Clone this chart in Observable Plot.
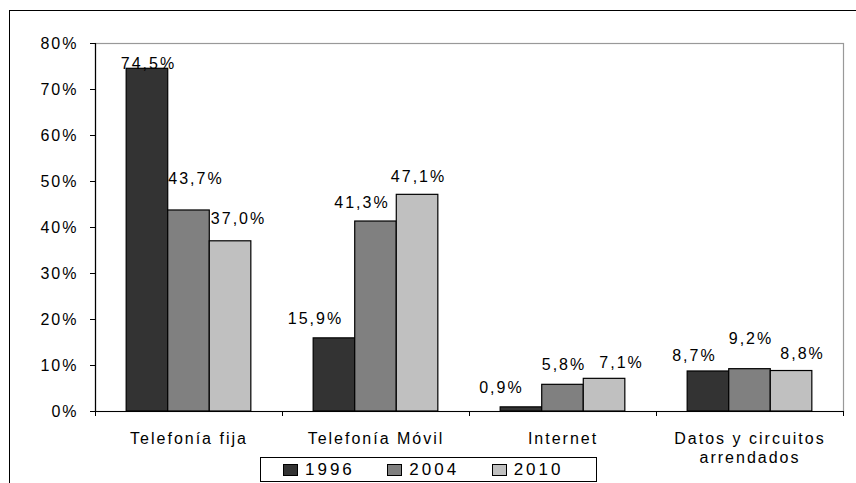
<!DOCTYPE html>
<html>
<head>
<meta charset="utf-8">
<script src="https://cdn.jsdelivr.net/npm/d3@7"></script>
<script src="https://cdn.jsdelivr.net/npm/@observablehq/plot@0.6"></script>
<style>
  html, body { margin: 0; padding: 0; background: #fff; }
  #wrap { position: relative; width: 856px; height: 483px; overflow: hidden; font-family: "Liberation Sans", Arial, sans-serif; }
  #border { position: absolute; left: 9px; top: 10px; width: 900px; height: 600px; border-left: 1px solid #000; border-top: 1px solid #000; pointer-events: none; }
  #chart { position: absolute; left: 0; top: 0; }
  #chart svg text { letter-spacing: 2px; }
  #legend { position: absolute; left: 260px; top: 457px; width: 337px; height: 25px; box-sizing: border-box; border: 1px solid #000; background: #fff; display: flex; align-items: center; padding-left: 22px; }
  #legend .item { display: inline-flex; align-items: center; width: 114px; font-size: 17px; letter-spacing: 3px; color: #000; }
  #legend .sw { width: 13px; height: 10px; border: 1px solid #000; margin-right: 7px; }
</style>
</head>
<body>
<div id="wrap">
  <div id="chart"></div>
  <div id="border"></div>
  <div id="legend"></div>
</div>
<script>
// ---- data ----
const categories = ["Telefonía fija", "Telefonía Móvil", "Internet", "Datos y circuitos arrendados"];
const categoryLabels = ["Telefonía fija", "Telefonía Móvil", "Internet", "Datos y circuitos\narrendados"];
const years = ["1996", "2004", "2010"];
const values1996 = [74.5, 15.9, 0.9, 8.7];
const values2004 = [43.7, 41.3, 5.8, 9.2];
const values2010 = [37.0, 47.1, 7.1, 8.8];
const yTicks = [0, 10, 20, 30, 40, 50, 60, 70, 80];

// ---- styles / label placement (pixels, as hand-placed in the original) ----
const yearColors = ["#333333", "#808080", "#c0c0c0"];
const labelNudge = [
  [[0, 0], [-20, 14], [-21, 14], [-15, 10]],   // 1996: [dx, gap above bar]
  [[6, 26], [-15, 14], [0, 15], [0, 25]],      // 2004
  [[7, 17], [0, 13], [16, 11], [10, 12]]       // 2010
];
const W = 856, H = 483;
const mL = 95, mR = 13, mT = 43, mB = 72;

const series = [values1996, values2004, values2010];
const rows = [];
years.forEach((yr, j) => categories.forEach((c, i) => rows.push({cat: c, year: yr, value: series[j][i], j, i})));

const bw = (W - mL - mR) / categories.length;
const barW = bw * 2 / 9;
const groupPad = (bw - 3 * barW) / 2;
const fmt = d => d.toFixed(1).replace(".", ",") + "%";
const labelOf = new Map(categories.map((c, i) => [c, categoryLabels[i]]));

const marks = [
  Plot.frame({stroke: "#999", strokeWidth: 1.2})
];
years.forEach((yr, j) => {
  const insetLeft = groupPad + j * barW;
  const insetRight = bw - insetLeft - barW;
  const d = rows.filter(r => r.year === yr);
  marks.push(Plot.barY(d, {x: "cat", y: "value", fill: yearColors[j], stroke: "#000", strokeWidth: 1.2, insetLeft, insetRight}));
});
rows.forEach(r => {
  const [ndx, gap] = labelNudge[r.j][r.i];
  marks.push(Plot.text([r], {x: "cat", y: "value", text: d => fmt(d.value), dx: (r.j - 1) * barW + ndx + 1, dy: -gap, lineAnchor: "bottom", fontSize: 16, fill: "#000"}));
});
marks.push(
  Plot.ruleY([0], {stroke: "#000", strokeWidth: 1.2}),
  Plot.ruleX([categories[0]], {dx: -bw / 2, stroke: "#000", strokeWidth: 1.2}),
  Plot.ruleX(categories, {dx: -bw / 2, y1: 0, y2: 0, insetTop: 5, stroke: "#000"}),
  Plot.ruleX([categories[categories.length - 1]], {dx: bw / 2, y1: 0, y2: 0, insetTop: 5, stroke: "#000"}),
  Plot.axisY({ticks: yTicks, tickFormat: d => d + "%", tickSize: 5, tickPadding: 12, fontSize: 16, stroke: "#000"}),
  Plot.axisX({tickSize: 0, tickPadding: 19, tickFormat: c => labelOf.get(c), fontSize: 16, lineHeight: 1.2})
);

const chart = Plot.plot({
  width: W, height: H,
  marginLeft: mL, marginRight: mR, marginTop: mT, marginBottom: mB,
  style: {fontFamily: "'Liberation Sans', Arial, sans-serif", color: "#000", background: "transparent"},
  x: {type: "band", domain: categories, padding: 0, label: null},
  y: {domain: [0, 80], label: null},
  marks
});
document.getElementById("chart").appendChild(chart);

const legend = document.getElementById("legend");
years.forEach((yr, j) => {
  const item = document.createElement("span");
  item.className = "item";
  const sw = document.createElement("span");
  sw.className = "sw";
  sw.style.background = yearColors[j];
  item.appendChild(sw);
  item.appendChild(document.createTextNode(yr));
  legend.appendChild(item);
});
</script>
</body>
</html>
